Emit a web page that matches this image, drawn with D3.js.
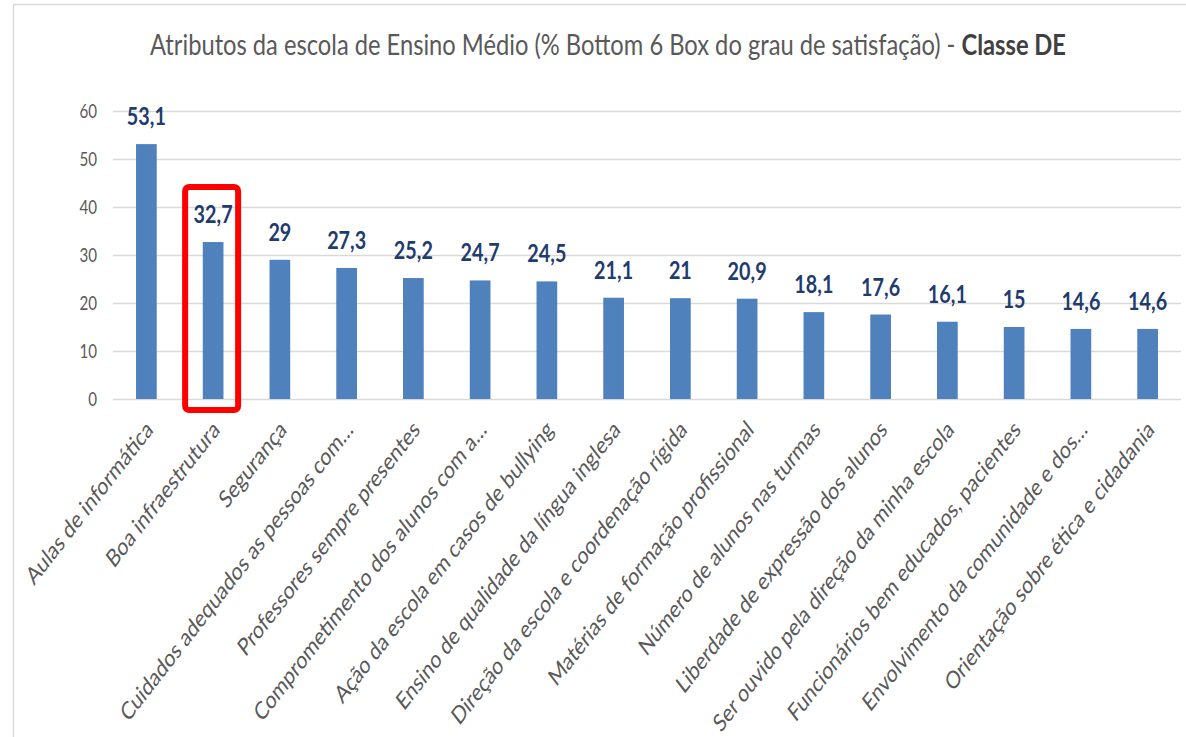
<!DOCTYPE html>
<html>
<head>
<meta charset="utf-8">
<script src="https://cdn.jsdelivr.net/npm/d3@7"></script>
<style>
  body { margin: 0; background: #fff; }
  svg { display: block; }
</style>
</head>
<body>
<div id="graph"></div>
<script>
// chart data
const categories = [
  "Aulas de informática",
  "Boa infraestrutura",
  "Segurança",
  "Cuidados adequados as pessoas com…",
  "Professores sempre presentes",
  "Comprometimento dos alunos com a…",
  "Ação da escola em casos de bullying",
  "Ensino de qualidade da língua inglesa",
  "Direção da escola e coordenação rígida",
  "Matérias de formação profissional",
  "Número de alunos nas turmas",
  "Liberdade de expressão dos alunos",
  "Ser ouvido pela direção da minha escola",
  "Funcionários bem educados, pacientes",
  "Envolvimento da comunidade e dos…",
  "Orientação sobre ética e cidadania"
];
const values = [53.1, 32.7, 29, 27.3, 25.2, 24.7, 24.5, 21.1, 21, 20.9, 18.1, 17.6, 16.1, 15, 14.6, 14.6];
const yTicks = [0, 10, 20, 30, 40, 50, 60];
const highlighted = "Boa infraestrutura";

const fullwidth = 1186;
const fullheight = 737;
// the original picture is squeezed horizontally, so draw wide and squeeze
const sx = 0.775;

const plotLeft = 113, plotRight = 1181;
const fontFam = "Lato, 'Open Sans', sans-serif";

var svg = d3.select("#graph")
  .append("svg")
  .attr("width", fullwidth)
  .attr("height", fullheight);

// chart frame (left and top edges visible)
svg.append("path")
  .attr("d", "M13.5," + fullheight + "V4.5H" + fullwidth)
  .attr("fill", "none")
  .attr("stroke", "#d9d9d9")
  .attr("stroke-width", 1.5);

var g = svg.append("g").attr("transform", "scale(" + sx + ",1)");

var xScale = d3.scaleBand()
  .domain(categories)
  .range([plotLeft / sx, plotRight / sx])
  .paddingInner(0.69)
  .paddingOuter(0.345);

var yScale = d3.scaleLinear()
  .domain([0, 60])
  .range([399, 111]);

// y axis with gridlines
var yAxis = d3.axisLeft(yScale)
  .tickValues(yTicks)
  .tickSize(-(plotRight - plotLeft) / sx)
  .tickPadding(16 / sx)
  .tickFormat(d3.format("d"));

var ya = g.append("g")
  .attr("transform", "translate(" + (plotLeft / sx) + ",0)")
  .call(yAxis);
ya.select(".domain").remove();
ya.selectAll("line").attr("stroke", "#d9d9d9").attr("stroke-width", 1.5);
ya.selectAll("text")
  .attr("fill", "#595959")
  .style("font-family", fontFam)
  .style("font-size", "19.5px");

// title
var title = g.append("text")
  .attr("x", 608 / sx)
  .attr("y", 55)
  .attr("text-anchor", "middle")
  .attr("textLength", 916 / sx)
  .attr("lengthAdjust", "spacingAndGlyphs")
  .style("font-family", fontFam)
  .style("font-size", "28px")
  .attr("fill", "#595959");
title.append("tspan").text("Atributos da escola de Ensino Médio (% Bottom 6 Box do grau de satisfação) - ");
title.append("tspan").attr("font-weight", "bold").attr("fill", "#404040").text("Classe DE");

// bars
g.selectAll("rect.bar")
  .data(values)
  .enter()
  .append("rect")
  .attr("class", "bar")
  .attr("x", (d, i) => xScale(categories[i]))
  .attr("y", d => yScale(d))
  .attr("width", xScale.bandwidth())
  .attr("height", d => yScale(0) - yScale(d))
  .attr("fill", "#4f81bd");

// value labels
g.selectAll("text.val")
  .data(values)
  .enter()
  .append("text")
  .attr("class", "val")
  .attr("x", (d, i) => xScale(categories[i]) + xScale.bandwidth() / 2)
  .attr("y", d => yScale(d) - 19)
  .attr("text-anchor", "middle")
  .style("font-family", fontFam)
  .style("font-size", "25.5px")
  .style("font-weight", "bold")
  .attr("fill", "#1f3c6e")
  .text(d => String(d).replace(".", ","));

// category labels, rotated
g.selectAll("text.cat")
  .data(categories)
  .enter()
  .append("text")
  .attr("class", "cat")
  .attr("transform", d => "translate(" + (xScale(d) + xScale.bandwidth() / 2 + 3 / sx) + "," + 425 + ") rotate(-45)")
  .attr("text-anchor", "end")
  .attr("dy", "0.35em")
  .style("font-family", fontFam)
  .style("font-size", "24.5px")
  .attr("fill", "#595959")
  .text(d => d);

// red highlight box around the chosen bar (drawn unsqueezed so the stroke stays even)
var hi = categories.indexOf(highlighted);
var hc = sx * (xScale(highlighted) + xScale.bandwidth() / 2);
svg.append("rect")
  .attr("x", hc - 28)
  .attr("y", yScale(values[hi]) - 55)
  .attr("width", 53)
  .attr("height", yScale(0) + 11 - (yScale(values[hi]) - 55))
  .attr("rx", 4)
  .attr("fill", "none")
  .attr("stroke", "#ff0000")
  .attr("stroke-width", 6);
</script>
</body>
</html>
